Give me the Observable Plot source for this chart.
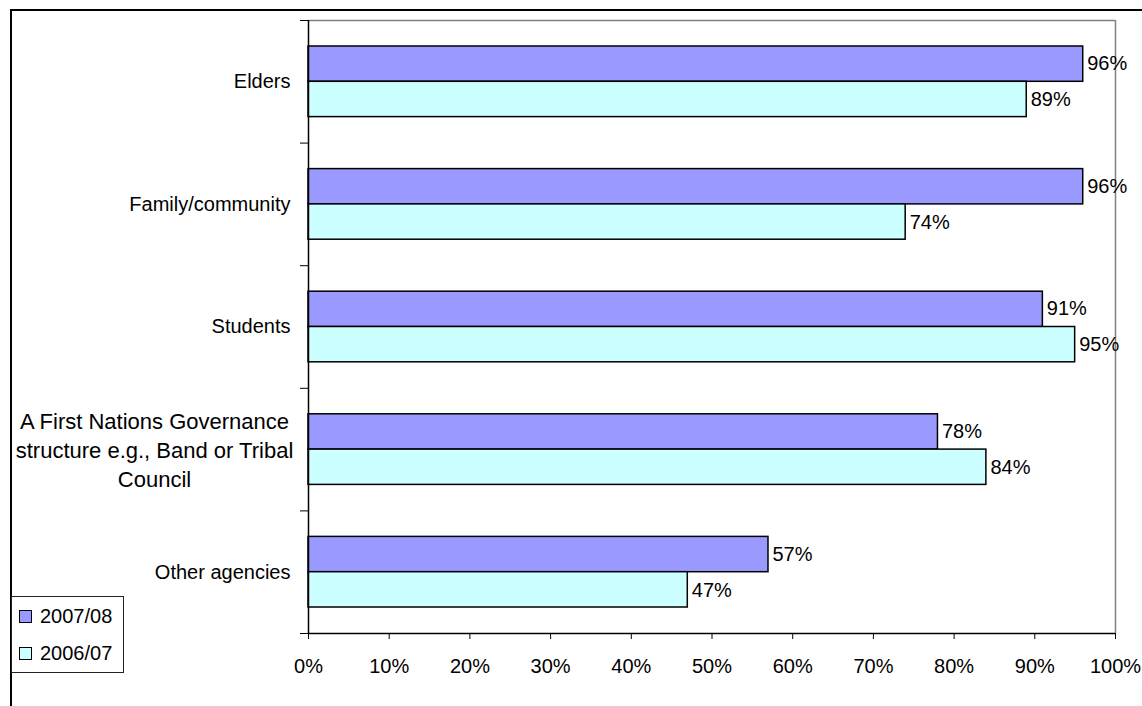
<!DOCTYPE html>
<html><head><meta charset="utf-8">
<script src="https://cdn.jsdelivr.net/npm/d3@7"></script>
<script src="https://cdn.jsdelivr.net/npm/@observablehq/plot@0.6"></script>
<style>
body{margin:0;background:#fff;font-family:"Liberation Sans",Arial,sans-serif;}
#wrap{position:relative;width:1142px;height:706px;overflow:hidden;background:#fff;}
#border{position:absolute;left:10px;top:9px;width:1200px;height:800px;border:2px solid #000;}
#chart{position:absolute;left:0;top:0;}
#legend{position:absolute;left:11px;top:596px;width:111px;height:75px;border:1px solid #222;background:#fff;font-size:20px;color:#000;}
.item{position:absolute;left:7px;display:flex;align-items:center;height:22px;}
.sw{width:11px;height:11px;border:1px solid #000;margin-right:8px;}
</style></head><body>
<div id="wrap"><div id="border"></div><div id="chart"></div><div id="legend"></div></div>
<script>
const categories = ["Elders", "Family/community", "Students", "A First Nations Governance\nstructure e.g., Band or Tribal\nCouncil", "Other agencies"];
const series = ["2007/08", "2006/07"];
const values0708 = [96, 96, 91, 78, 57];
const values0607 = [89, 74, 95, 84, 47];
const xTicks = [0, 10, 20, 30, 40, 50, 60, 70, 80, 90, 100];
const colors = ["#9999FF", "#CCFFFF"];

const rows0708 = categories.map((c, i) => ({category: c, series: series[0], value: values0708[i], i}));
const rows0607 = categories.map((c, i) => ({category: c, series: series[1], value: values0607[i], i}));
const catRows = categories.map((c, i) => ({label: c, i}));
const single = catRows.filter(d => !d.label.includes("\n"));
const multi = catRows.filter(d => d.label.includes("\n"));

const chart = Plot.plot({
  width: 1142, height: 706,
  marginLeft: 308, marginRight: 27, marginTop: 20, marginBottom: 73,
  style: {fontSize: "20px", fontFamily: "Liberation Sans, Arial, sans-serif", color: "#000", background: "transparent"},
  x: {domain: [0, 100], axis: null},
  y: {domain: [0, categories.length], reverse: true, axis: null},
  marks: [
    Plot.ruleY([0], {stroke: "#808080", strokeWidth: 1.5}),
    Plot.ruleX([100], {stroke: "#808080", strokeWidth: 1.5}),
    Plot.rectX(rows0708, {x1: 0, x2: "value", y1: "i", y2: d => d.i + 1, insetTop: 26, insetBottom: 61.3, fill: colors[0], stroke: "#000", strokeWidth: 1.5}),
    Plot.rectX(rows0607, {x1: 0, x2: "value", y1: "i", y2: d => d.i + 1, insetTop: 61.3, insetBottom: 26, fill: colors[1], stroke: "#000", strokeWidth: 1.5}),
    Plot.text(rows0708, {x: "value", y: d => d.i + 0.5, dy: -18, dx: 4, text: d => d.value + "%", textAnchor: "start"}),
    Plot.text(rows0607, {x: "value", y: d => d.i + 0.5, dy: 18, dx: 4, text: d => d.value + "%", textAnchor: "start"}),
    Plot.ruleX([0], {stroke: "#000", strokeWidth: 1.5}),
    Plot.ruleY([categories.length], {stroke: "#000", strokeWidth: 1.5}),
    Plot.axisY(d3.range(categories.length + 1), {tickSize: 8, tickFormat: () => "", stroke: "#000", label: null}),
    Plot.axisX(xTicks, {tickSize: 6, tickPadding: 19, tickFormat: d => d + "%", stroke: "#000", label: null}),
    Plot.text(single, {frameAnchor: "left", y: d => d.i + 0.5, text: "label", textAnchor: "end", dx: -18}),
    Plot.text(multi, {frameAnchor: "left", y: d => d.i + 0.5, text: "label", textAnchor: "middle", dx: -154, dy: -1, fontSize: 22, lineHeight: 1.31})
  ]
});
document.getElementById("chart").appendChild(chart);

const legend = document.getElementById("legend");
const legendTops = [8, 45];
series.forEach((s, k) => {
  const it = document.createElement("div");
  it.className = "item";
  it.style.top = legendTops[k] + "px";
  const sw = document.createElement("div");
  sw.className = "sw";
  sw.style.background = colors[k];
  const t = document.createElement("span");
  t.textContent = s;
  it.appendChild(sw); it.appendChild(t);
  legend.appendChild(it);
});
</script>
</body></html>
